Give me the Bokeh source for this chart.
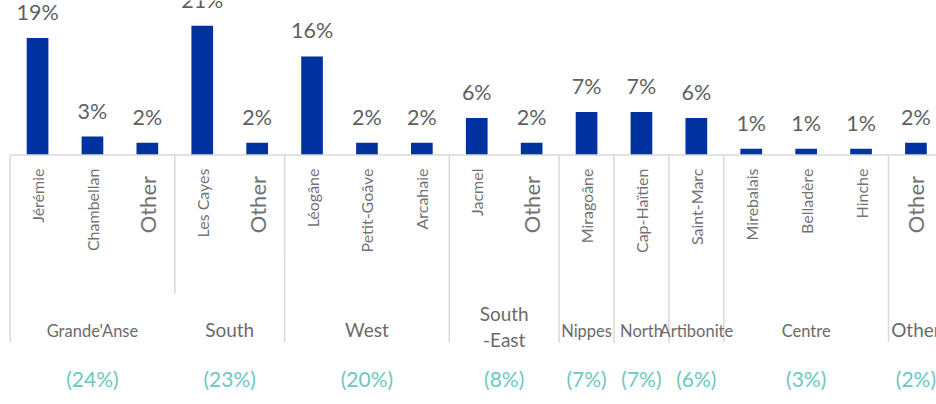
import numpy as np
from bokeh.plotting import figure
from bokeh.models import Range1d, ColumnDataSource
from bokeh.core.properties import value
from bokeh.embed import file_html
from bokeh.resources import INLINE

# ---------------- data ----------------
categories = ["Jérémie", "Chambellan", "Other", "Les Cayes", "Other", "Léogâne",
              "Petit-Goâve", "Arcahaie", "Jacmel", "Other", "Miragoâne",
              "Cap-Haïtien", "Saint-Marc", "Mirebalais", "Belladère", "Hinche", "Other"]
values = [19, 3, 2, 21, 2, 16, 2, 2, 6, 2, 7, 7, 6, 1, 1, 1, 2]
value_labels = ["19%", "3%", "2%", "21%", "2%", "16%", "2%", "2%", "6%", "2%",
                "7%", "7%", "6%", "1%", "1%", "1%", "2%"]

groups = ["Grande'Anse", "South", "West", "South\n-East", "Nippes", "North",
          "Artibonite", "Centre", "Other"]
group_sizes = [3, 2, 3, 2, 1, 1, 1, 3, 1]
group_shares = ["(24%)", "(23%)", "(20%)", "(8%)", "(7%)", "(7%)", "(6%)", "(3%)", "(2%)"]

# ---------------- layout / style ----------------
W, H = 936, 396
PX_PER_UNIT = 6.16       # vertical pixels per percentage point
BASE_PX = 154.5          # baseline distance from top of frame
X_STEP_PX = 54.9         # pixels per category
X_LEFT_PX = 9.6          # first category boundary from frame left

FONT = "Lato"
BAR_COLOR = "#0033A0"
VAL_COLOR = "#5f5f5f"
CAT_COLOR = "#737373"
GRP_COLOR = "#6b6b6b"
TEAL = "#6cc8bf"
LINE_COLOR = "#d9d9d9"

n = len(categories)
x = np.arange(n)
x_start = -0.5 - X_LEFT_PX / X_STEP_PX
x_end = x_start + W / X_STEP_PX
y_end = BASE_PX / PX_PER_UNIT
y_start = y_end - H / PX_PER_UNIT


def below(px):
    """data y for a point px pixels below the baseline"""
    return -px / PX_PER_UNIT


p = figure(width=W, height=H, x_range=Range1d(x_start, x_end),
           y_range=Range1d(y_start, y_end), output_backend="svg",
           toolbar_location=None, x_axis_type=None, y_axis_type=None,
           min_border=0)
p.grid.visible = False
p.outline_line_color = None
p.background_fill_color = "white"

# bars
src = ColumnDataSource(dict(x=x, top=values, lab=value_labels))
p.vbar(x="x", top="top", width=0.395, source=src, fill_color=BAR_COLOR,
       line_color=None)

# value labels
p.text(x="x", y="top", text="lab", source=src, y_offset=-26,
       text_align="center", text_baseline="middle",
       text_font=value(FONT), text_font_size="21.5px", text_color=VAL_COLOR)

# baseline
p.segment(x0=[-0.5], y0=[0], x1=[x_end + 1], y1=[0], line_color=LINE_COLOR,
          line_width=1.5)

# group dividers
edges = np.concatenate([[0], np.cumsum(group_sizes)]) - 0.5
div_len = [187.5 if i != 1 else 138.5 for i in range(len(edges))]
p.segment(x0=edges, y0=[0] * len(edges), x1=edges,
          y1=[below(d) for d in div_len], line_color=LINE_COLOR, line_width=1.5)

# category labels (rotated)
is_other = [c == "Other" for c in categories]
cat_src = ColumnDataSource(dict(
    x=x,
    y=[below(21) if o else below(13.5) for o in is_other],
    t=categories,
    fs=["22px" if o else "16px" for o in is_other],
))
p.text(x="x", y="y", text="t", source=cat_src, angle=np.pi / 2,
       text_align="right", text_baseline="middle", text_font=value(FONT),
       text_font_size="fs", text_color=CAT_COLOR)

# group labels
centers = (edges[:-1] + edges[1:]) / 2
big = {"South", "West", "South\n-East", "Other"}
single = [i for i, g in enumerate(groups) if "\n" not in g]
multi = [i for i, g in enumerate(groups) if "\n" in g]
g_src = ColumnDataSource(dict(
    x=[centers[i] for i in single],
    y=[below(174.5) if groups[i] in big else below(176) for i in single],
    t=[groups[i] for i in single],
    fs=["19px" if groups[i] in big else "16.5px" for i in single],
))
p.text(x="x", y="y", text="t", source=g_src, text_align="center",
       text_baseline="middle", text_font=value(FONT), text_font_size="fs",
       text_color=GRP_COLOR)
m_src = ColumnDataSource(dict(
    x=[centers[i] for i in multi],
    y=[below(171.5)] * len(multi),
    t=[groups[i] for i in multi],
))
p.text(x="x", y="y", text="t", source=m_src, text_align="center",
       text_baseline="middle", text_font=value(FONT), text_font_size="19px",
       text_line_height=1.1, text_color=GRP_COLOR)

# group shares (teal)
s_src = ColumnDataSource(dict(x=centers, y=[below(223)] * len(centers),
                              t=group_shares))
p.text(x="x", y="y", text="t", source=s_src, text_align="center",
       text_baseline="middle", text_font=value(FONT), text_font_size="21px",
       text_color=TEAL)

open("out.html", "w").write(file_html(p, INLINE))
